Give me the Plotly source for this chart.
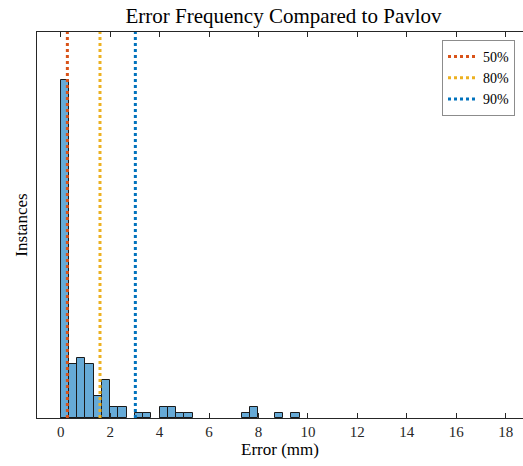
import plotly.graph_objects as go

# Histogram data (bin width 1/3 mm, starting at 0)
bin_width = 1.0 / 3.0
bin_starts = [i * bin_width for i in range(29)]
counts = [62, 10, 11, 10, 4, 7, 2, 2, 0, 1, 1, 0, 2, 2, 1, 1,
          0, 0, 0, 0, 0, 0, 1, 2, 0, 0, 1, 0, 1]

# Percentile lines (mm)
pct_labels = ["50%", "80%", "90%"]
pct_values = [0.27, 1.59, 3.02]
pct_colors = ["#D95319", "#EDB120", "#0072BD"]

x_ticks = list(range(0, 20, 2))
y_max = 70.9

FONT = "Liberation Serif"

fig = go.Figure()
fig.add_trace(go.Bar(
    x=[s + bin_width / 2 for s in bin_starts],
    y=[c if c > 0 else None for c in counts],
    width=bin_width,
    marker=dict(color="rgba(0,114,189,0.6)",
                line=dict(color="#1a1a1a", width=1)),
    showlegend=False,
    hoverinfo="skip",
))
for lab, val, col in zip(pct_labels, pct_values, pct_colors):
    fig.add_trace(go.Scatter(
        x=[val, val], y=[0, y_max], mode="lines", name=lab,
        line=dict(color=col, width=3, dash="dot"),
    ))

fig.update_layout(
    width=523, height=466,
    margin=dict(l=37, r=0, t=32, b=48),
    paper_bgcolor="white", plot_bgcolor="white",
    font=dict(family=FONT, color="#262626", size=15),
    title=dict(text="Error Frequency Compared to Pavlov",
               x=283.5 / 523, xanchor="center",
               y=1 - 16 / 466, yanchor="middle",
               font=dict(family=FONT, size=21, color="black")),
    bargap=0,
    legend=dict(x=(515 - 37) / 486, xanchor="right",
                y=(418 - 40) / 386, yanchor="top",
                bordercolor="#8c8c8c", borderwidth=1, bgcolor="white",
                font=dict(family=FONT, size=14, color="black"),
                tracegroupgap=0, itemwidth=30),
)
fig.update_xaxes(
    range=[(37 - 60.7) / 24.72, (523 - 60.7) / 24.72],
    tickvals=x_ticks, ticktext=[str(t) for t in x_ticks],
    ticks="inside", ticklen=5, tickcolor="#262626",
    showline=True, linecolor="#262626", linewidth=1, mirror="ticks",
    showgrid=False, zeroline=False,
    tickfont=dict(family=FONT, size=15, color="#262626"),
    title=dict(text="Error (mm)", font=dict(family=FONT, size=17, color="black"),
               standoff=3),
)
fig.update_yaxes(
    range=[0, y_max], showticklabels=False, ticks="",
    showline=True, linecolor="#262626", linewidth=1, mirror=False,
    showgrid=False, zeroline=False,
    title=dict(text="Instances", font=dict(family=FONT, size=17, color="black"),
               standoff=4),
)

fig.write_html("out.html")
